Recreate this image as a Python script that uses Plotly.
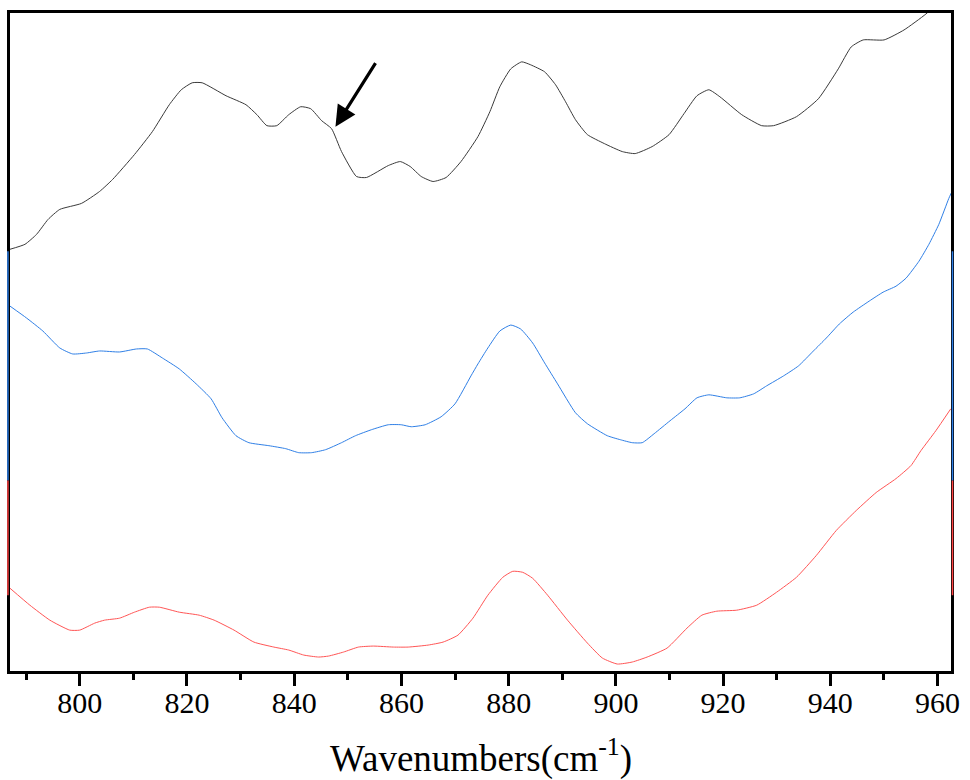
import plotly.graph_objects as go

# Black (top) spectrum
wn_black = [787.00, 789.79, 791.96, 794.11, 796.29, 800.32, 803.71, 806.13, 810.21, 813.55,
            816.71, 818.94, 820.98, 822.84, 827.29, 831.01, 833.05, 834.91, 836.76, 838.99,
            841.22, 843.08, 845.12, 846.97, 848.83, 851.62, 853.47, 857.56, 859.79, 861.64,
            863.69, 865.91, 868.33, 871.11, 874.27, 876.50, 878.35, 880.40, 882.44, 884.11,
            886.71, 888.75, 890.61, 892.46, 894.69, 897.85, 901.19, 903.60, 906.76, 909.92,
            912.70, 915.12, 917.34, 919.39, 923.47, 927.18, 929.41, 933.68, 937.77, 941.48,
            943.89, 946.13, 950.02, 953.74, 957.82, 961.00, 963.50]
ab_black = [0.423, 0.428, 0.438, 0.453, 0.463, 0.469, 0.481, 0.493, 0.518, 0.541,
            0.568, 0.583, 0.590, 0.590, 0.577, 0.568, 0.558, 0.547, 0.547, 0.558,
            0.566, 0.564, 0.552, 0.544, 0.521, 0.496, 0.495, 0.507, 0.511, 0.506,
            0.496, 0.491, 0.495, 0.511, 0.536, 0.561, 0.586, 0.604, 0.611, 0.608,
            0.601, 0.588, 0.571, 0.553, 0.538, 0.529, 0.521, 0.519, 0.526, 0.538,
            0.559, 0.577, 0.583, 0.576, 0.558, 0.547, 0.547, 0.556, 0.574, 0.604,
            0.626, 0.633, 0.633, 0.643, 0.659, 0.675, 0.690]

# Blue (middle) spectrum
wn_blue = [787.00, 790.10, 793.13, 796.29, 798.70, 801.30, 803.71, 807.43, 810.58, 812.63,
           815.41, 818.57, 821.72, 824.51, 826.55, 829.15, 831.56, 835.28, 838.43, 840.85,
           843.26, 845.86, 848.83, 851.43, 854.40, 857.56, 859.97, 861.83, 864.43, 867.40,
           870.00, 872.97, 874.27, 876.12, 878.35, 880.40, 882.25, 884.48, 886.71, 889.12,
           892.46, 894.69, 898.40, 900.82, 903.05, 904.91, 907.13, 910.10, 912.89, 915.12,
           917.34, 920.69, 923.10, 925.70, 928.11, 931.27, 934.05, 936.84, 939.25, 941.66,
           944.26, 947.24, 949.84, 952.25, 954.11, 956.52, 958.38, 960.23, 962.09, 962.60]
ab_blue = [0.366, 0.354, 0.341, 0.324, 0.318, 0.319, 0.321, 0.320, 0.323, 0.323,
           0.314, 0.303, 0.288, 0.273, 0.254, 0.236, 0.229, 0.226, 0.223, 0.219,
           0.219, 0.222, 0.229, 0.236, 0.242, 0.247, 0.247, 0.245, 0.247, 0.255,
           0.268, 0.296, 0.308, 0.324, 0.341, 0.347, 0.343, 0.329, 0.309, 0.288,
           0.259, 0.248, 0.236, 0.232, 0.229, 0.229, 0.238, 0.251, 0.263, 0.274,
           0.277, 0.274, 0.274, 0.278, 0.286, 0.296, 0.306, 0.321, 0.334, 0.348,
           0.360, 0.371, 0.380, 0.386, 0.394, 0.411, 0.428, 0.448, 0.474, 0.480]

# Red (bottom) spectrum
wn_red = [787.00, 790.71, 794.43, 798.14, 800.00, 802.79, 804.64, 807.43, 810.21, 813.00,
          814.85, 818.57, 822.28, 825.07, 828.78, 832.49, 836.21, 838.99, 841.78, 844.56,
          846.42, 849.20, 851.99, 854.77, 858.49, 861.27, 864.98, 867.77, 870.55, 873.34,
          876.12, 878.91, 880.77, 882.62, 884.48, 887.27, 890.98, 894.69, 897.48, 900.26,
          903.05, 905.83, 909.55, 913.26, 916.04, 918.83, 922.54, 926.26, 929.97, 933.68,
          937.40, 941.11, 944.83, 948.54, 952.25, 955.03, 956.89, 959.67, 962.46]
ab_red = [0.083, 0.066, 0.051, 0.041, 0.041, 0.048, 0.051, 0.053, 0.059, 0.064,
          0.064, 0.059, 0.056, 0.051, 0.041, 0.029, 0.024, 0.021, 0.016, 0.014,
          0.015, 0.019, 0.024, 0.025, 0.024, 0.024, 0.026, 0.029, 0.036, 0.053,
          0.076, 0.094, 0.100, 0.099, 0.093, 0.076, 0.051, 0.028, 0.013, 0.007,
          0.009, 0.014, 0.023, 0.043, 0.056, 0.060, 0.061, 0.066, 0.079, 0.094,
          0.116, 0.141, 0.161, 0.179, 0.193, 0.206, 0.221, 0.241, 0.263]

x_ticks = [800, 820, 840, 860, 880, 900, 920, 940, 960]
x_title = "Wavenumbers(cm<sup>-1</sup>)"
arrow_target = (847.7, 0.546)

SERIF = "Liberation Serif, Times New Roman, serif"

fig = go.Figure()
for wn, ab, col in [(wn_black, ab_black, "#3a3a3a"),
                    (wn_blue, ab_blue, "#2f7fe6"),
                    (wn_red, ab_red, "#ff5555")]:
    fig.add_trace(go.Scatter(x=wn, y=ab, mode="lines",
                             line=dict(color=col, width=1, shape="spline", smoothing=0.5),
                             showlegend=False, hoverinfo="skip"))

# coloured layer segments on the left / right frame
for (y0, y1, col) in [(0.421, 0.191, "#2f7fe6"), (0.191, 0.076, "#ff4444")]:
    fig.add_shape(type="line", xref="paper", yref="y", x0=-0.0022, x1=-0.0022, y0=y0, y1=y1,
                  line=dict(color=col, width=1.5), layer="above")
    fig.add_shape(type="line", xref="paper", yref="y", x0=1.0016, x1=1.0016, y0=y0, y1=y1,
                  line=dict(color=col, width=1.5), layer="above")

fig.add_annotation(x=arrow_target[0], y=arrow_target[1], ax=41, ay=-65, xref="x", yref="y",
                   showarrow=True, arrowhead=2, arrowsize=1.3, arrowwidth=3.2, arrowcolor="black", text="")

fig.add_annotation(x=0.5, y=-0.129, xref="paper", yref="paper", text=x_title, showarrow=False,
                   font=dict(family=SERIF, size=37, color="black"), yanchor="middle")

fig.update_layout(
    width=970, height=780,
    margin=dict(l=10, r=15, t=11, b=109),
    paper_bgcolor="white", plot_bgcolor="white",
    xaxis=dict(range=[787.0, 962.5], tickvals=x_ticks, ticks="outside", ticklen=12, tickwidth=2.5,
               tickcolor="black", showline=True, linecolor="black", linewidth=3, mirror=True,
               showgrid=False, zeroline=False, ticklabelstandoff=-9,
               tickfont=dict(family=SERIF, size=30, color="black"),
               minor=dict(ticks="outside", ticklen=6, tickwidth=2.5, dtick=10, tick0=780, tickcolor="black",
                          showgrid=False)),
    yaxis=dict(range=[0, 0.66], showticklabels=False, ticks="", showline=True, linecolor="black",
               linewidth=3, mirror=True, showgrid=False, zeroline=False),
)

fig.write_html("out.html")
